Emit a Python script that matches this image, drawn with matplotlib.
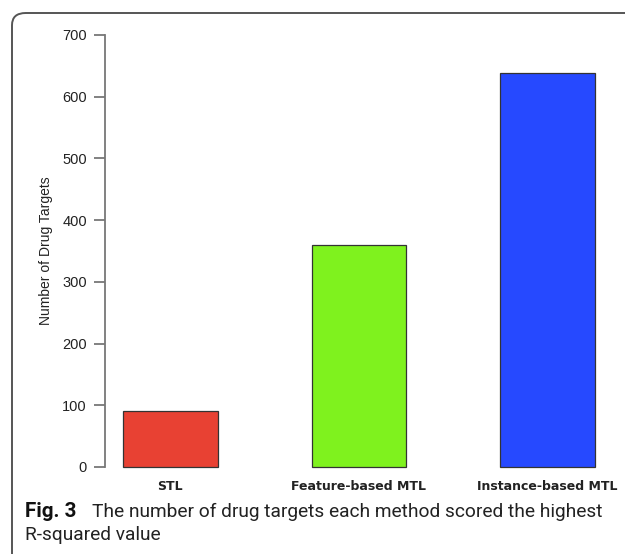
import matplotlib.pyplot as plt
from matplotlib import font_manager
from matplotlib.patches import FancyBboxPatch

# данные
methods = ['STL', 'Feature-based MTL', 'Instance-based MTL']
targets = [91, 360, 639]
colors = ['#E84133', '#7FF21E', '#2649FF']
yticks = [0, 100, 200, 300, 400, 500, 600, 700]
caption_bold = 'Fig. 3'
caption_1 = 'The number of drug targets each method scored the highest'
caption_2 = 'R-squared value'


# ищем узкий шрифт для подписи
def pick_font(names):
    for name in names:
        try:
            font_manager.findfont(name, fallback_to_default=False)
            return name
        except ValueError:
            pass
    return 'DejaVu Sans'


cap_font = pick_font(['Liberation Sans Narrow', 'Roboto', 'Open Sans'])

fig = plt.figure(figsize=(6.25, 5.54), dpi=100)
W, H = 625, 554

# рамка с закруглённым углом
frame = FancyBboxPatch((12 / W, -0.2), 1.2, (H - 13) / H + 0.2,
                       boxstyle='round,pad=0,rounding_size=0.022',
                       transform=fig.transFigure, fill=False,
                       edgecolor='#555555', linewidth=1.4)
fig.patches.append(frame)

ax = fig.add_axes([105 / W, 87 / H, 506 / W, 432 / H])
x = list(range(len(methods)))
ax.bar(x, targets, width=0.503, color=colors, edgecolor='#333333',
       linewidth=0.9, clip_on=False)
ax.set_xlim(-0.347, 2.337)
ax.set_ylim(0, 700)

for s in ['top', 'right', 'bottom']:
    ax.spines[s].set_visible(False)
ax.spines['left'].set_color('#777777')
ax.spines['left'].set_linewidth(1.3)

ax.set_yticks(yticks)
ax.set_yticklabels([str(t) for t in yticks], fontfamily='Liberation Sans',
                   fontsize=10.5, color='#222222')
ax.tick_params(axis='y', length=8, width=1.3, color='#777777', pad=5)
ax.set_xticks(x)
ax.set_xticklabels(methods, fontfamily='DejaVu Sans', fontweight='bold',
                   fontsize=9, color='#222222')
ax.tick_params(axis='x', length=0, pad=9)
ax.set_ylabel('Number of Drug Targets', fontfamily='Liberation Sans',
              fontsize=10, color='#222222', labelpad=7)

# подпись к рисунку
t0 = fig.text(25 / W, 1 - 517 / H, caption_bold, fontfamily=cap_font,
              fontweight='bold', fontsize=15, va='baseline', color='#111111')
t1 = fig.text(92 / W, 1 - 517 / H, caption_1, fontfamily=cap_font,
              fontsize=15, va='baseline', color='#222222')
t2 = fig.text(25 / W, 1 - 540 / H, caption_2, fontfamily=cap_font,
              fontsize=15, va='baseline', color='#222222')

# подгоняем размер шрифта подписи под ширину строки
r = fig.canvas.get_renderer()
w1 = t1.get_window_extent(r).width
fs = min(15 * 512 / w1, 15)
w0 = t0.get_window_extent(r).width
fs0 = 15 * 52 / w0
t1.set_fontsize(fs)
t2.set_fontsize(fs)
t0.set_fontsize(min(fs0, fs + 1.5))

fig.savefig('out.png', dpi=100)
